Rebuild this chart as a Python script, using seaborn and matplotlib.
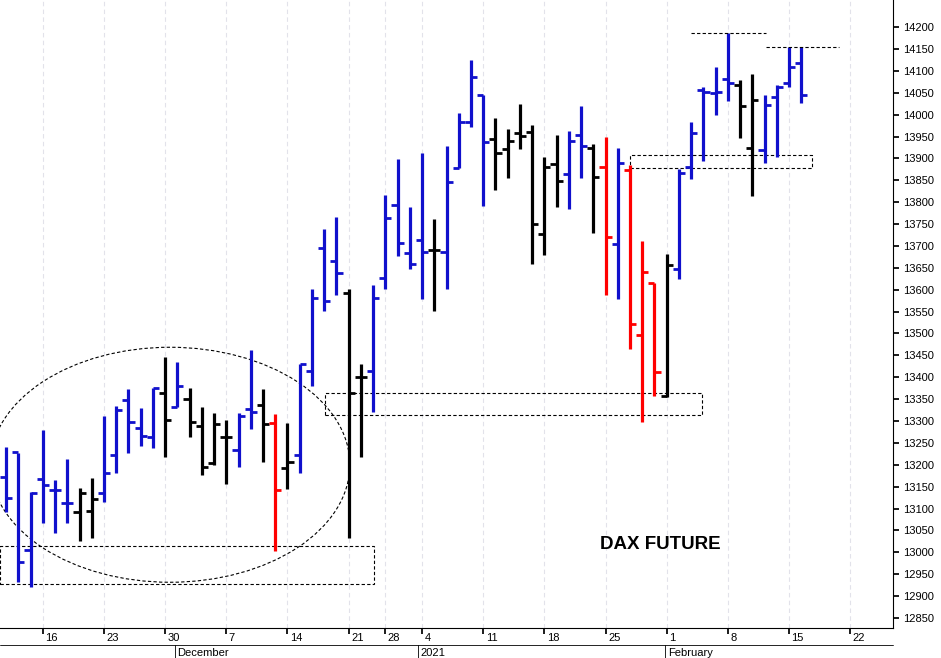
import matplotlib
matplotlib.use('Agg')
import matplotlib.pyplot as plt
import matplotlib.transforms as mtransforms
from matplotlib.patches import Ellipse, Rectangle
import seaborn as sns

sns.set_theme(style="white")
plt.rcParams['font.family'] = ['Liberation Sans', 'DejaVu Sans']
plt.rcParams['text.color'] = 'black'
plt.rcParams['ytick.color'] = 'black'
plt.rcParams['xtick.color'] = 'black'

# daily OHLC of the DAX future, one bar per trading day (Nov 11 2020 .. Feb 17 2021)
opens = [13172, 13229, 13005, 13168, 13143, 13113, 13092, 13094, 13136, 13222,
         13348, 13284, 13264, 13364, 13332, 13350, 13289, 13204, 13264, 13234,
         13328, 13337, 13296, 13193, 13222, 13414, 13695, 13666, 13592, 13401,
         13414, 13627, 13793, 13684, 13714, 13691, 13686, 13878, 13983, 14045,
         13944, 13921, 13958, 13960, 13727, 13887, 13864, 13953, 13924, 13880,
         13704, 13873, 13497, 13615, 13357, 13647, 13880, 14056, 14049, 14081,
         14068, 13924, 13919, 14040, 14072, 14118]
highs = [13241, 13227, 13138, 13280, 13165, 13213, 13147, 13170, 13312, 13334,
         13373, 13330, 13375, 13446, 13435, 13375, 13332, 13318, 13302, 13318,
         13462, 13373, 13316, 13296, 13430, 13602, 13739, 13766, 13602, 13430,
         13611, 13816, 13899, 13789, 13912, 13761, 13928, 14004, 14125, 14045,
         13992, 13967, 14024, 13976, 13903, 13953, 13962, 14020, 13933, 13949,
         13924, 13885, 13711, 13615, 13682, 13876, 13983, 14063, 14109, 14186,
         14079, 14093, 14045, 14068, 14154, 14154]
lows = [13092, 12932, 12921, 13067, 13044, 13067, 13026, 13033, 13115, 13181,
        13227, 13243, 13238, 13218, 13332, 13264, 13177, 13200, 13156, 13195,
        13282, 13206, 13003, 13145, 13181, 13380, 13551, 13588, 13033, 13218,
        13321, 13602, 13677, 13647, 13579, 13551, 13602, 13878, 13972, 13791,
        13828, 13855, 13921, 13659, 13679, 13789, 13784, 13855, 13729, 13588,
        13579, 13465, 13298, 13357, 13355, 13624, 13853, 13894, 13999, 14031,
        13946, 13814, 13889, 13903, 14063, 14026]
closes = [13124, 12978, 13136, 13154, 13143, 13113, 13136, 13122, 13181, 13325,
          13298, 13266, 13375, 13302, 13380, 13298, 13195, 13293, 13264, 13312,
          13321, 13293, 13143, 13206, 13430, 13581, 13574, 13638, 13364, 13401,
          13581, 13764, 13707, 13659, 13686, 13691, 13846, 13983, 14086, 13937,
          13912, 13940, 13951, 13750, 13880, 13848, 13940, 13928, 13857, 13720,
          13889, 13522, 13640, 13412, 13656, 13867, 13958, 14052, 14052, 14072,
          14020, 14033, 14022, 14063, 14109, 14045]
bar_colors = list("BBBBBBKKBBBBBKBKKKKBBKRKBBBBKKBBBBBKBBBBKKKKKKBBKRBRRRKBBBBBKKBBBB")

tick_pos = [3, 8, 13, 18, 23, 28, 31, 34, 39, 44, 49, 54, 59, 64, 69]
tick_labels = ['16', '23', '30', '7', '14', '21', '28', '4', '11', '18', '25', '1', '8', '15', '22']
months = [('December', 13.8), ('2021', 33.7), ('February', 53.9)]

cmap = {'B': '#1010cc', 'K': '#000000', 'R': '#ff0000'}

fig = plt.figure(figsize=(9.41, 6.58), dpi=100)
ax = fig.add_axes([0.0, 0.0456, 0.949, 0.9544])

for i in range(len(opens)):
    c = cmap[bar_colors[i]]
    ax.vlines(i, lows[i], highs[i], color=c, lw=2.3)
    ax.hlines(opens[i], i - 0.5, i, color=c, lw=2.0)
    ax.hlines(closes[i], i, i + 0.5, color=c, lw=2.0)

# vertical grid
for p in tick_pos:
    ax.axvline(p, color='#e2e2ea', lw=0.8, ls=(0, (4, 3)), zorder=0)

# annotations
dash = dict(fill=False, ls=(0, (3, 2)), lw=0.8, ec='black')
ax.add_patch(Ellipse((13.4, 13200), 29.4, 537, **dash))
ax.add_patch(Rectangle((-0.5, 12928), 30.6, 87, **dash))
ax.add_patch(Rectangle((26.1, 13314), 30.8, 50, **dash))
ax.add_patch(Rectangle((51.0, 13878), 14.9, 30, **dash))
ax.hlines(14186, 56.0, 62.1, color='black', lw=0.8, ls=(0, (3, 2)))
ax.hlines(14154, 62.1, 68.1, color='black', lw=0.8, ls=(0, (3, 2)))
ax.text(53.5, 13017, 'DAX FUTURE', fontsize=13.5, fontweight='bold', ha='center', va='center')

ax.set_xlim(-0.5, 72.5)
ax.set_ylim(12827, 14262)
ax.yaxis.tick_right()
ax.set_yticks(range(12850, 14201, 50))
ax.tick_params(axis='y', labelsize=8, length=4, direction='out', right=True, pad=3)
ax.set_xticks(tick_pos)
ax.set_xticklabels([])
ax.tick_params(axis='x', length=4, direction='out', bottom=True)
for s in ['top', 'left']:
    ax.spines[s].set_visible(False)
for s in ['bottom', 'right']:
    ax.spines[s].set_color('black')
    ax.spines[s].set_linewidth(0.8)

trans = mtransforms.blended_transform_factory(ax.transData, ax.transAxes)
for p, lab in zip(tick_pos, tick_labels):
    ax.text(p + 0.2, -0.008, lab, transform=trans, fontsize=8, ha='left', va='top')
ax.plot([-0.5, 72.5], [-0.027, -0.027], transform=trans, color='black', lw=0.6, clip_on=False)
for name, p in months:
    ax.plot([p, p], [-0.027, -0.06], transform=trans, color='black', lw=0.6, clip_on=False)
    ax.text(p + 0.2, -0.032, name, transform=trans, fontsize=8, ha='left', va='top')

fig.savefig('out.png', dpi=100)
